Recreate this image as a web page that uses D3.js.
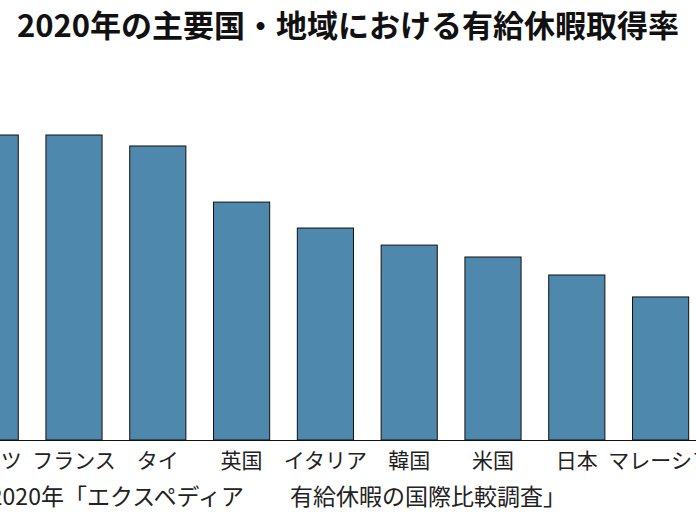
<!DOCTYPE html>
<html>
<head>
<meta charset="utf-8">
<script src="https://cdn.jsdelivr.net/npm/d3@7"></script>
<style>
  body { margin: 0; background: #fff; }
  text { font-family: "Noto Sans CJK JP", "Noto Sans", sans-serif; }
</style>
</head>
<body>
<div id="chart"></div>
<script>
// countries shown (the figure is cropped at both sides)
var countries = ["ドイツ", "フランス", "タイ", "英国", "イタリア", "韓国", "米国", "日本", "マレーシア"];
// bar heights, relative to the tallest bar
var rates = [100, 100, 96.4, 78, 69.5, 63.9, 60, 54.1, 46.9];

var titleText = "2020年の主要国・地域における有給休暇取得率";
var sourceText = "出典：2020年「エクスペディア　　有給休暇の国際比較調査」";

var width = 696, height = 522;
var baseY = 440, topY = 135;

var svg = d3.select("#chart")
  .append("svg")
  .attr("width", width)
  .attr("height", height);

// band step of ~83.8px, first centre falls off the left edge
var step = 83.8, firstCentre = -9.8;
var xScale = d3.scaleBand()
  .domain(countries)
  .range([firstCentre - step / 2, firstCentre - step / 2 + step * countries.length])
  .paddingInner(0.33)
  .paddingOuter(0.165);

var yScale = d3.scaleLinear()
  .domain([0, 100])
  .range([baseY, topY]);

// bars
svg.selectAll(".bar")
  .data(countries)
  .enter()
  .append("rect")
  .attr("class", "bar")
  .attr("x", function(d) { return xScale(d); })
  .attr("y", function(d, i) { return yScale(rates[i]); })
  .attr("width", xScale.bandwidth())
  .attr("height", function(d, i) { return baseY - yScale(rates[i]); })
  .attr("fill", "#4f88ad")
  .attr("stroke", "#111")
  .attr("stroke-width", 1);

// x axis
var xAxis = svg.append("g")
  .attr("transform", "translate(0," + baseY + ")")
  .call(d3.axisBottom(xScale).tickSize(0).tickPadding(13));

xAxis.select(".domain")
  .attr("d", "M-60,0.5H760")
  .attr("stroke", "#111")
  .attr("stroke-width", 1.2);

xAxis.selectAll("text")
  .style("font-size", "21px")
  .attr("fill", "#222");

// title
svg.append("text")
  .attr("x", width / 2)
  .attr("y", 37)
  .style("text-anchor", "middle")
  .style("font-size", "31px")
  .attr("font-weight", "700")
  .attr("fill", "#111")
  .text(titleText);

// source
svg.append("text")
  .attr("x", 566)
  .attr("y", 505)
  .style("text-anchor", "end")
  .style("font-size", "23px")
  .attr("fill", "#222")
  .text(sourceText);
</script>
</body>
</html>
